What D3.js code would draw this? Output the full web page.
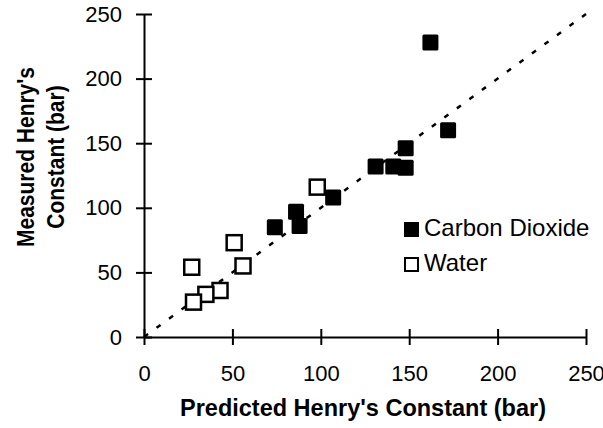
<!DOCTYPE html>
<html>
<head>
<meta charset="utf-8">
<script src="https://cdn.jsdelivr.net/npm/d3@7"></script>
<style>
  body { margin: 0; background: #fff; }
  svg { font-family: "Liberation Sans", Arial, sans-serif; }
</style>
</head>
<body>
<svg id="chart" width="603" height="428"></svg>
<script>
// values
var co2X = [162, 172, 148, 131, 141, 148, 107, 86, 88, 74]
var co2Y = [228, 160, 146, 132, 132, 131, 108, 97, 86, 85]
var waterX = [98, 51, 56, 27, 43, 35, 28]
var waterY = [116, 73, 55, 54, 36, 33, 27]
var tickValues = [0, 50, 100, 150, 200, 250]
var parityLine = [0, 250]
var legendLabels = ["Carbon Dioxide", "Water"]

var dimensions = {
    width: 603,
    height: 428,
    margin: { top: 14, bottom: 91, left: 144, right: 17 }
}

var svg = d3.select("#chart")

var xScale = d3.scaleLinear()
               .domain([0, 250])
               .range([dimensions.margin.left, dimensions.width - dimensions.margin.right])

var yScale = d3.scaleLinear()
               .domain([0, 250])
               .range([dimensions.height - dimensions.margin.bottom, dimensions.margin.top])

// dotted 1:1 line
svg.append("line")
   .attr("x1", xScale(parityLine[0]))
   .attr("y1", yScale(parityLine[0]))
   .attr("x2", xScale(parityLine[1]))
   .attr("y2", yScale(parityLine[1]))
   .attr("stroke", "black")
   .attr("stroke-width", 2.5)
   .attr("stroke-dasharray", "5 10.5")

// axes, ticks cross the line
var xAxis = svg.append("g")
               .attr("transform", `translate(0,${yScale(0)})`)
               .call(d3.axisBottom(xScale).tickValues(tickValues).tickSize(8).tickSizeOuter(0).tickPadding(20))
xAxis.selectAll(".tick line").attr("y1", -8)
xAxis.selectAll(".tick text").style("font-size", "22px").attr("fill", "black")

var yAxis = svg.append("g")
               .attr("transform", `translate(${xScale(0)},0)`)
               .call(d3.axisLeft(yScale).tickValues(tickValues).tickSize(8).tickSizeOuter(0).tickPadding(14))
yAxis.selectAll(".tick line").attr("x1", 8)
yAxis.selectAll(".tick text").style("font-size", "22px").attr("fill", "black")

svg.selectAll(".domain, .tick line").attr("stroke", "black").attr("stroke-width", 2)

// points
var size = 15
var co2 = co2X.map((x, i) => ({ x: x, y: co2Y[i] }))
var water = waterX.map((x, i) => ({ x: x, y: waterY[i] }))

svg.append("g")
   .selectAll("rect")
   .data(water)
   .enter()
   .append("rect")
   .attr("x", d => xScale(d.x) - size / 2)
   .attr("y", d => yScale(d.y) - size / 2)
   .attr("width", size)
   .attr("height", size)
   .attr("fill", "white")
   .attr("stroke", "black")
   .attr("stroke-width", 2.5)

svg.append("g")
   .selectAll("rect")
   .data(co2)
   .enter()
   .append("rect")
   .attr("x", d => xScale(d.x) - (size + 1) / 2)
   .attr("y", d => yScale(d.y) - (size + 1) / 2)
   .attr("width", size + 1)
   .attr("height", size + 1)
   .attr("rx", 1.5)
   .attr("fill", "black")

// legend
var legend = svg.append("g").attr("transform", "translate(404,222)")
legendLabels.forEach(function(label, i) {
    legend.append("rect")
          .attr("x", i == 0 ? 0 : 1)
          .attr("y", i * 35 + (i == 0 ? 0 : 1))
          .attr("width", i == 0 ? 15 : 13)
          .attr("height", i == 0 ? 15 : 13)
          .attr("fill", i == 0 ? "black" : "white")
          .attr("stroke", "black")
          .attr("stroke-width", i == 0 ? 0 : 2)
    legend.append("text")
          .attr("x", 20)
          .attr("y", i * 35 + 14)
          .style("font-size", "24px")
          .text(label)
})

// axis titles
svg.append("text")
   .attr("x", 363)
   .attr("y", 416)
   .attr("text-anchor", "middle")
   .style("font-size", "23.5px")
   .style("font-weight", "bold")
   .text("Predicted Henry's Constant (bar)")

// y title looks taller than it is wide in the original
var yTitle = svg.append("text")
   .attr("transform", "translate(34,157) rotate(-90) scale(1,1.15)")
   .attr("text-anchor", "middle")
   .style("font-size", "21px")
   .style("font-weight", "bold")
yTitle.append("tspan").attr("x", 0).attr("y", 0).text("Measured Henry's")
yTitle.append("tspan").attr("x", 0).attr("y", 26).text("Constant (bar)")
</script>
</body>
</html>
